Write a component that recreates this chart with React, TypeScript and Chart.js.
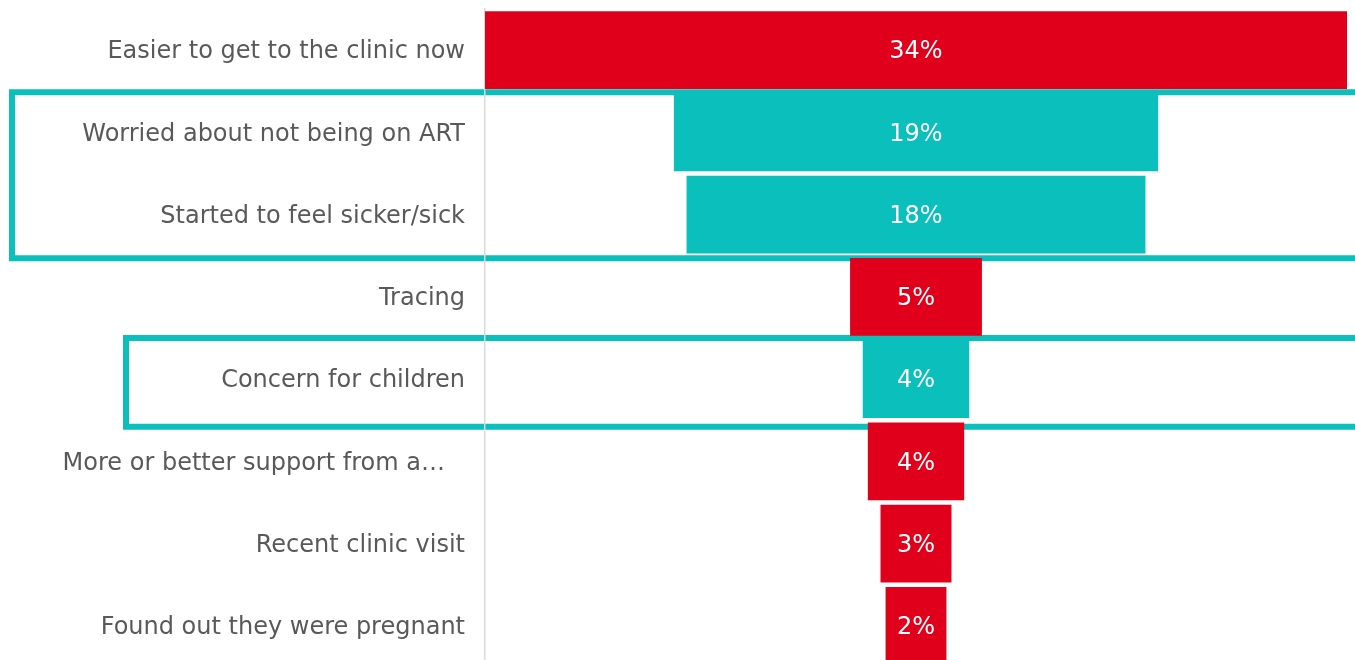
import React, { useEffect, useRef } from "react";
import { Chart, registerables } from "chart.js";

Chart.register(...registerables);

// ---- data ----
const categories = [
  "Easier to get to the clinic now",
  "Worried about not being on ART",
  "Started to feel sicker/sick",
  "Tracing",
  "Concern for children",
  "More or better support from a…  \u2009",
  "Recent clinic visit",
  "Found out they were pregnant",
];
const values = [34, 19.1, 18.1, 5.2, 4.2, 3.8, 2.8, 2.4];
const valueLabels = ["34%", "19%", "18%", "5%", "4%", "4%", "3%", "2%"];
const highlighted = [false, true, true, false, true, false, false, false];
// groups of categories (first index, last index) outlined by a teal frame
const groupFrom = [1, 4];
const groupTo = [2, 4];

// ---- styles ----
const RED = "#E0001B";
const TEAL = "#0ABFBC";
const FONT = "'DejaVu Sans', Verdana, sans-serif";
const W = 1355;
const H = 667;

const boxPlugin = {
  id: "groupBoxes",
  beforeDraw(chart: any, _args: any, opts: any) {
    const y = chart.scales.y;
    const ctx = chart.ctx;
    const step = y.getPixelForValue(1) - y.getPixelForValue(0);
    ctx.save();
    ctx.strokeStyle = TEAL;
    ctx.lineWidth = 6;
    groupFrom.forEach((from, i) => {
      const to = groupTo[i];
      const st = opts.styles[i];
      const top = y.getPixelForValue(from) - step / 2 + st.dTop;
      const bottom = y.getPixelForValue(to) + step / 2 + st.dBottom;
      ctx.strokeRect(st.left, top, chart.width + 40 - st.left, bottom - top);
    });
    ctx.restore();
  },
};

const labelPlugin = {
  id: "barLabels",
  afterDatasetsDraw(chart: any) {
    const ctx = chart.ctx;
    const meta = chart.getDatasetMeta(0);
    ctx.save();
    ctx.fillStyle = "#FFFFFF";
    ctx.font = `24px ${FONT}`;
    ctx.textAlign = "center";
    ctx.textBaseline = "middle";
    meta.data.forEach((el: any, i: number) => {
      const cx = (el.x + el.base) / 2;
      ctx.fillText(valueLabels[i], cx, el.y + 2);
    });
    ctx.restore();
  },
};

export default function App() {
  const ref = useRef<HTMLCanvasElement | null>(null);

  useEffect(() => {
    if (!ref.current) return;
    const chart = new Chart(ref.current, {
      type: "bar",
      data: {
        labels: categories,
        datasets: [
          {
            data: values.map((v) => [-v / 2, v / 2]) as any,
            backgroundColor: highlighted.map((h) => (h ? TEAL : RED)),
            borderWidth: 0,
            barPercentage: 0.945,
            categoryPercentage: 1,
          },
        ],
      },
      options: {
        indexAxis: "y",
        animation: false,
        responsive: false,
        layout: { padding: { top: 9, right: 8, bottom: 0, left: 0 } },
        plugins: {
          legend: { display: false },
          tooltip: { enabled: false },
          groupBoxes: {
            styles: [
              { left: 12, dTop: 1, dBottom: 2.5 },
              { left: 126, dTop: 0, dBottom: 6.5 },
            ],
          },
        } as any,
        scales: {
          x: {
            display: false,
            min: -17,
            max: 17,
          },
          y: {
            afterFit: (scale: any) => {
              scale.width = 485;
              scale.paddingTop = 0;
              scale.paddingBottom = 0;
            },
            grid: { display: false, drawTicks: false },
            border: { display: true, color: "#D9D9D9", width: 1.5 },
            ticks: {
              color: "#595959",
              padding: 20,
              labelOffset: 2,
              font: { family: FONT, size: 24 },
              autoSkip: false,
            },
          },
        },
      },
      plugins: [boxPlugin, labelPlugin],
    });
    return () => chart.destroy();
  }, []);

  return (
    <div
      style={{
        position: "fixed",
        top: 0,
        left: 0,
        width: W,
        height: H,
        background: "#FFFFFF",
      }}
    >
      <canvas ref={ref} width={W} height={H} style={{ display: "block" }} />
    </div>
  );
}
